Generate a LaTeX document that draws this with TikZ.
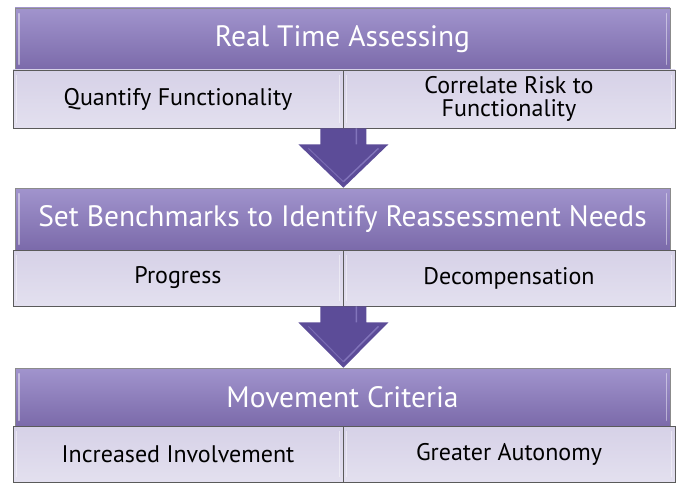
\documentclass[tikz,border=0pt]{standalone}
\usepackage{fontspec}
\setmainfont{PT Sans}
\usetikzlibrary{calc}
\definecolor{hdtop}{HTML}{A194CD}
\definecolor{hdbot}{HTML}{7B6AAA}
\definecolor{sbtop}{HTML}{D6D1E7}
\definecolor{sbbot}{HTML}{E3E0EF}
\definecolor{arrfill}{HTML}{5C4C98}
\definecolor{arrlight}{HTML}{8C7FC4}
\definecolor{edgegray}{HTML}{5A5A5A}
\tikzset{
  header/.style={draw=edgegray!70, line width=0.6pt, top color=hdtop, bottom color=hdbot,
    minimum width=655pt, inner sep=0pt, text=white, font=\fontsize{29.5}{32}\selectfont},
  subbox/.style={draw=edgegray, line width=0.8pt, top color=sbtop, bottom color=sbbot,
    inner sep=0pt, text=black, align=center, font=\fontsize{24}{23}\selectfont},
  arr/.style={fill=arrfill},
  shine/.style={draw=white, opacity=0.45, line width=1.6pt, line cap=round},
}
\newcommand{\flowarrow}[2]{%
  \fill[arr] let \p1=(#1.south east), \p2=(#2.north) in
    (\x1-23pt,\y1) -- (\x1+23pt,\y1) -- (\x1+23pt,\y1-16pt) -- (\x1+45pt,\y1-16pt)
    -- (\x1,\y2) -- (\x1-45pt,\y1-16pt) -- (\x1-23pt,\y1-16pt) -- cycle;
  \draw[arrlight, line width=1.4pt, opacity=0.8] let \p1=(#1.south east), \p2=(#2.north) in
    (\x1+13pt,\y1) -- (\x1+13pt,\y1-16pt) (\x1+35pt,\y1-20pt) -- (\x1,\y2+6pt);
  \draw[arrlight!60!arrfill, line width=1pt] let \p1=(#1.south east), \p2=(#2.north) in
    (\x1-35pt,\y1-20pt) -- (\x1,\y2+6pt);
}
\newcommand{\boxshine}[1]{%
  \draw[shine] ($(#1.north west)+(4pt,-6pt)$) -- ($(#1.south west)+(4pt,6pt)$);
  \draw[shine] ($(#1.north east)+(-4pt,-6pt)$) -- ($(#1.south east)+(-4pt,6pt)$);
}
\begin{document}
\begin{tikzpicture}[x=1pt,y=-1pt]
\useasboundingbox (0,0) rectangle (677,484);
% block 1
\node[header, minimum height=62pt] (h1) at (342.5,39) {Real Time Assessing};
\node[subbox, minimum width=330pt, minimum height=58pt] (a1) at (178,99) {Quantify Functionality};
\node[subbox, minimum width=332pt, minimum height=58pt] (b1) at (509,99) {Correlate Risk to\\Functionality};
% block 2
\node[header, minimum height=62pt] (h2) at (342.5,219) {Set Benchmarks to Identify Reassessment Needs};
\node[subbox, minimum width=330pt, minimum height=56pt] (a2) at (178,278) {Progress};
\node[subbox, minimum width=332pt, minimum height=56pt] (b2) at (509,278) {Decompensation};
% block 3
\node[header, minimum height=58pt] (h3) at (342.5,397) {Movement Criteria};
\node[subbox, minimum width=330pt, minimum height=56pt] (a3) at (178,454) {Increased Involvement};
\node[subbox, minimum width=332pt, minimum height=56pt] (b3) at (509,454) {Greater Autonomy};
\foreach \n in {h1,h2,h3,a1,b1,a2,b2,a3,b3} {\boxshine{\n}}
% arrows
\flowarrow{a1}{h2}
\flowarrow{a2}{h3}
\end{tikzpicture}
\end{document}
